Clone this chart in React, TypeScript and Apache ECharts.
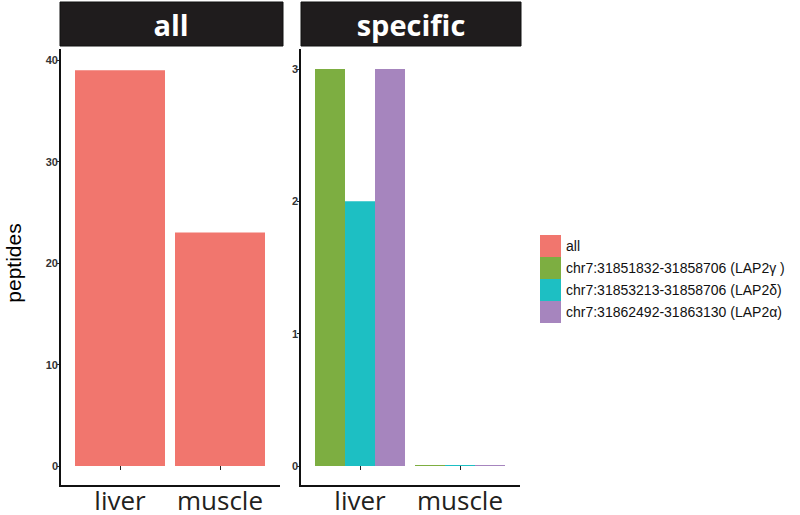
import React, { useEffect, useRef } from "react";
import * as echarts from "echarts";

const categories = ["liver", "muscle"];
const allValues = [39, 23];
const specificNames = [
  "chr7:31851832-31858706 (LAP2γ )",
  "chr7:31853213-31858706 (LAP2δ)",
  "chr7:31862492-31863130 (LAP2α)",
];
const specificValues = [
  [3, 0],
  [2, 0],
  [3, 0],
];
const panelTitles = ["all", "specific"];
const leftTicks = { min: 0, max: 40, interval: 10 };
const rightTicks = { min: 0, max: 3, interval: 1 };

const colors = ["#F1766E", "#7DAE41", "#1DBFC3", "#A685BE"];
const sans = "Liberation Sans, Arial, Helvetica, sans-serif";
const catFont = "Open Sans, Noto Sans, sans-serif";

export default function App() {
  const ref = useRef<HTMLDivElement>(null);
  useEffect(() => {
    if (!ref.current) return;
    const chart = echarts.init(ref.current, null, { renderer: "svg" });
    const yAxisCommon = {
      type: "value" as const,
      offset: 10,
      splitLine: { show: false },
      axisLine: { show: false },
      axisTick: { show: true, length: 3, lineStyle: { color: "#222", width: 1 } },
      axisLabel: { color: "#333", fontSize: 11, fontWeight: "bold", fontFamily: sans, margin: 2 },
    };
    const xAxisCommon = {
      type: "category" as const,
      data: categories,
      offset: 20,
      axisLine: { show: false },
      axisTick: { show: true, alignWithLabel: true, length: 4, lineStyle: { color: "#222", width: 1 } },
      axisLabel: {
        color: "#231f20",
        fontSize: 26,
        lineHeight: 22,
        fontFamily: catFont,
        margin: 3,
        interval: 0,
        hideOverlap: false,
      },
    };
    const lineStyle = { stroke: "#111", lineWidth: 2 };
    chart.setOption({
      animation: false,
      backgroundColor: "#fff",
      grid: [
        { left: 70, width: 200, top: 60, height: 406 },
        { left: 310, width: 200, top: 69, height: 397 },
      ],
      xAxis: [
        { ...xAxisCommon, gridIndex: 0 },
        { ...xAxisCommon, gridIndex: 1 },
      ],
      yAxis: [
        {
          ...yAxisCommon,
          gridIndex: 0,
          ...leftTicks,
          name: "peptides",
          nameLocation: "middle",
          nameGap: 36,
          nameTextStyle: { fontSize: 21, color: "#000", fontFamily: sans },
        },
        { ...yAxisCommon, gridIndex: 1, ...rightTicks },
      ],
      legend: {
        orient: "vertical",
        left: 535,
        top: 230,
        itemWidth: 21,
        itemHeight: 22,
        itemGap: 0,
        icon: "rect",
        textStyle: { fontSize: 14, color: "#111", fontFamily: sans },
        data: ["all", ...specificNames],
      },
      series: [
        {
          name: "all",
          type: "bar",
          xAxisIndex: 0,
          yAxisIndex: 0,
          data: allValues,
          barWidth: 90,
          itemStyle: { color: colors[0] },
        },
        ...specificNames.map((n, i) => ({
          name: n,
          type: "bar",
          xAxisIndex: 1,
          yAxisIndex: 1,
          data: specificValues[i],
          barWidth: 30,
          barGap: "0%",
          barMinHeight: 1,
          itemStyle: { color: colors[i + 1] },
        })),
      ],
      graphic: [
        { type: "rect", shape: { x: 60, y: 2, width: 223, height: 44 }, style: { fill: "#1f1c1d", stroke: "#111", lineWidth: 1 } },
        { type: "rect", shape: { x: 301, y: 2, width: 220, height: 44 }, style: { fill: "#1f1c1d", stroke: "#111", lineWidth: 1 } },
        { type: "text", x: 171, y: 24, style: { text: panelTitles[0], fill: "#fff", font: "bold 29px Open Sans, sans-serif", textAlign: "center", textVerticalAlign: "middle" } },
        { type: "text", x: 411, y: 24, style: { text: panelTitles[1], fill: "#fff", font: "bold 29px Open Sans, sans-serif", textAlign: "center", textVerticalAlign: "middle" } },
        { type: "line", shape: { x1: 60, y1: 49, x2: 60, y2: 487 }, style: lineStyle, z: 100 },
        { type: "line", shape: { x1: 59, y1: 486, x2: 280, y2: 486 }, style: lineStyle, z: 100 },
        { type: "line", shape: { x1: 300, y1: 49, x2: 300, y2: 487 }, style: lineStyle, z: 100 },
        { type: "line", shape: { x1: 299, y1: 486, x2: 520, y2: 486 }, style: lineStyle, z: 100 },
      ],
    });
    return () => chart.dispose();
  }, []);
  return <div ref={ref} style={{ width: 800, height: 515, position: "absolute", left: 0, top: 0 }} />;
}
